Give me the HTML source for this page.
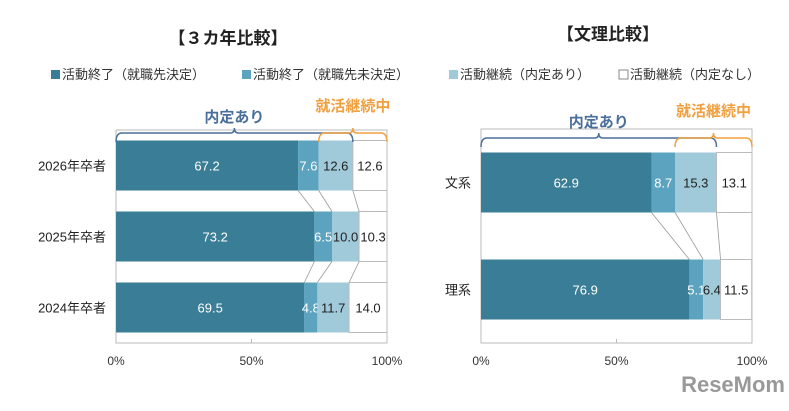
<!DOCTYPE html>
<html><head><meta charset="utf-8"><style>
body{margin:0;background:#fff;width:789px;height:406px;overflow:hidden;font-family:"Liberation Sans","Noto Sans CJK JP",sans-serif}
svg text{font-family:"Liberation Sans","Noto Sans CJK JP",sans-serif}
</style></head><body>
<svg id="c" width="789" height="406" xmlns="http://www.w3.org/2000/svg">
<text x="228" y="44" font-size="17" font-weight="bold" text-anchor="middle" fill="#222">【３カ年比較】</text>
<text x="608" y="40" font-size="17" font-weight="bold" text-anchor="middle" fill="#222">【文理比較】</text>
<g font-size="13" fill="#333">
<rect x="51" y="70" width="9" height="9" fill="#3a7d96"/>
<text x="62" y="79">活動終了（就職先決定）</text>
<rect x="242" y="70" width="9" height="9" fill="#5ba3bf"/>
<text x="253" y="79">活動終了（就職先未決定）</text>
<rect x="449" y="70" width="9" height="9" fill="#a0c9d9"/>
<text x="460" y="79">活動継続（内定あり）</text>
<rect x="619" y="70" width="9" height="9" fill="#fff" stroke="#888"/>
<text x="630" y="79">活動継続（内定なし）</text>
</g>
<text x="785" y="392" font-size="22" font-weight="bold" text-anchor="end" fill="#999">ReseMom</text>
</svg>
<script>
const leftCats=["2026年卒者","2025年卒者","2024年卒者"];
const leftDecided=[67.2,73.2,69.5];
const leftUndecided=[7.6,6.5,4.8];
const leftContOffer=[12.6,10.0,11.7];
const leftContNone=[12.6,10.3,14.0];
const rightCats=["文系","理系"];
const rightDecided=[62.9,76.9];
const rightUndecided=[8.7,5.1];
const rightContOffer=[15.3,6.4];
const rightContNone=[13.1,11.5];
const xTicks=[0,50,100];
const colors=["#3a7d96","#5ba3bf","#a0c9d9","#ffffff"];
const textCols=["#fff","#fff","#222","#222"];
const svg=document.getElementById('c');
const NS="http://www.w3.org/2000/svg";
function mk(t,a,p){const e=document.createElementNS(NS,t);for(const k in a)e.setAttribute(k,a[k]);(p||svg).appendChild(e);return e;}
function chart(o){
  const x=v=>o.x0+v*(o.x1-o.x0)/100;
  const n=o.cats.length, bandH=(o.y1-o.y0)/n;
  const g=mk('g',{});
  
  
  const frame=mk('rect',{x:o.x0,y:o.y0,width:o.x1-o.x0,height:o.y1-o.y0,fill:'none',stroke:'#bbb'},g);
  
  
  xTicks.forEach(t=>{
    const tx=mk('text',{x:x(t),y:o.y1+22,'font-size':12,'text-anchor':'middle',fill:'#333'},g);
    tx.textContent=t+'%';
    
    
    mk('line',{x1:x(t),x2:x(t),y1:o.y1,y2:o.y1-4,stroke:'#bbb'},g);
  });
  const series=[o.s0,o.s1,o.s2,o.s3];
  const prevEnds=[];
  o.cats.forEach((c,i)=>{
    const cy=o.y0+bandH*(i+0.5)+o.off;
    const by=cy-o.bh/2;
    const lab=mk('text',{x:o.x0-10,y:cy+5,'font-size':13,'text-anchor':'end',fill:'#222'},g);
    lab.textContent=c;
    
    
    let acc=0;const ends=[];
    series.forEach((s,k)=>{
      const v=s[i];
      const r=mk('rect',{x:x(acc),y:by,width:x(acc+v)-x(acc),height:o.bh,fill:colors[k],stroke:k==3?'#bbb':'none'},g);
      
      
      const t=mk('text',{x:(x(acc)+x(acc+v))/2,y:cy+5,'font-size':13,'text-anchor':'middle',fill:textCols[k]},g);
      t.textContent=v.toFixed(1);
      
      
      acc+=v;ends.push(x(acc));
    });
    if(i>0){for(let k=0;k<3;k++){mk('line',{x1:prevEnds[k],y1:o.prevBottom,x2:ends[k],y2:by,stroke:'#999','stroke-width':0.8},g);}}
    prevEnds.splice(0,3,...ends);o.prevBottom=by+o.bh;
  });
  function brace(a,b,y,col,label,ly,nm){
    const xa=x(a),xb=x(b),m=(xa+xb)/2;
    const p=mk('path',{d:`M${xa},${y+9} Q${xa},${y} ${xa+6},${y} L${m-4},${y} Q${m},${y} ${m},${y-5} Q${m},${y} ${m+4},${y} L${xb-6},${y} Q${xb},${y} ${xb},${y+9}`,fill:'none',stroke:col,'stroke-width':1.5},g);
    
    
    const t=mk('text',{x:m,y:ly,'font-size':15,'font-weight':'bold','text-anchor':'middle',fill:col},g);
    t.textContent=label;
    
    
  }
  const off0=o.s0[0]+o.s1[0]+o.s2[0];
  brace(0,off0,o.braceY,'#4a6f9a','内定あり',o.braceY-11,'offer');
  brace(o.s0[0]+o.s1[0],100,o.braceY,'#f0a040','就活継続中',o.braceY-22,'job-hunting');
}
chart({name:'three-year-chart',x0:116,x1:387,y0:130,y1:343,bh:50,off:0,cats:leftCats,s0:leftDecided,s1:leftUndecided,s2:leftContOffer,s3:leftContNone,braceY:133});
chart({name:'humanities-science-chart',x0:481,x1:752,y0:129,y1:343,bh:60,off:0,cats:rightCats,s0:rightDecided,s1:rightUndecided,s2:rightContOffer,s3:rightContNone,braceY:138});
</script>
</body></html>
